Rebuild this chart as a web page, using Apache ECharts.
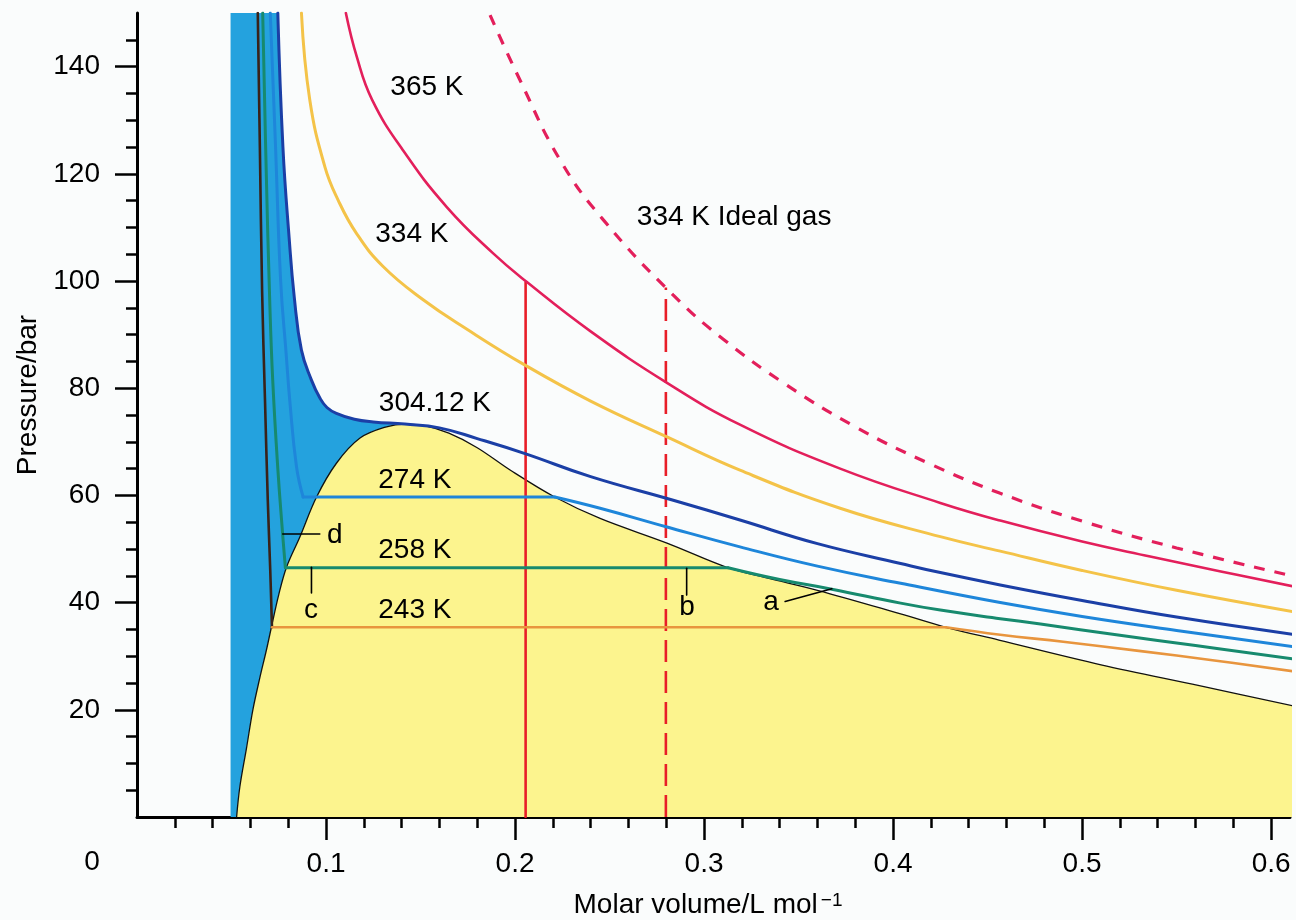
<!DOCTYPE html>
<html>
<head>
<meta charset="utf-8">
<title>CO2 isotherms</title>
<script src="https://cdn.jsdelivr.net/npm/echarts@6/dist/echarts.min.js"></script>
<style>
  html, body { margin: 0; padding: 0; background: #fafcfc; }
  #chart { width: 1296px; height: 920px; }
</style>
</head>
<body>
<div id="chart"></div>
<script>
// ---- Data: molar volume (L/mol), pressure (bar) ----

// axis ticks
const xMajorTicks = [0.1, 0.2, 0.3, 0.4, 0.5, 0.6];
const xMinorTicks = [0.02, 0.04, 0.06, 0.08, 0.12, 0.14, 0.16, 0.18, 0.22, 0.24, 0.26, 0.28,
  0.32, 0.34, 0.36, 0.38, 0.42, 0.44, 0.46, 0.48, 0.52, 0.54, 0.56, 0.58];
const yMajorTicks = [20, 40, 60, 80, 100, 120, 140];
const yMinorTicks = [5, 10, 15, 25, 30, 35, 45, 50, 55, 65, 70, 75, 85, 90, 95,
  105, 110, 115, 125, 130, 135, 145];

// coexistence (two-phase) boundary
const coexistence = [
  [0.0527, 0], [0.0544, 5.6], [0.058, 13], [0.0613, 20], [0.065, 26], [0.0685, 31.2],
  [0.0711, 35.4], [0.075, 41.5], [0.0791, 46.6], [0.0861, 52.2], [0.095, 59.7],
  [0.1055, 66], [0.118, 70.7], [0.132, 72.8], [0.1417, 73.3], [0.152, 73.0],
  [0.165, 71.6], [0.18, 68.9], [0.198, 64.6], [0.221, 59.7], [0.245, 55.7],
  [0.2804, 51.1], [0.3127, 46.5], [0.3332, 44.6], [0.36, 42.3], [0.404, 37.9], [0.428, 35.4],
  [0.456, 33.0], [0.51, 28.4], [0.562, 24.5], [0.6134, 20.6]
];

// left edge of the liquid region
const liquidEdgeV = 0.0495;

// 243 K
const iso243Liquid = [[0.0639, 150], [0.065, 125], [0.0662, 98], [0.0677, 78], [0.0692, 59], [0.0705, 46], [0.0714, 35.4]];
const iso243Tie = [[0.0714, 35.4], [0.428, 35.4]];
const iso243Gas = [[0.428, 35.4], [0.4567, 34.0], [0.49, 32.7], [0.53, 31.0], [0.57, 29.2], [0.6134, 27.1]];

// 258 K
const iso258Liquid = [[0.0665, 150], [0.0684, 120], [0.0702, 96.5], [0.0718, 81.5], [0.0745, 65], [0.077, 53], [0.0785, 46.5]];
const iso258Tie = [[0.0785, 46.5], [0.3127, 46.5]];
const iso258Gas = [[0.3127, 46.5], [0.34, 44.3], [0.3676, 42.5], [0.404, 39.9], [0.425, 38.6],
  [0.4567, 37.0], [0.478, 36.0], [0.52, 33.9], [0.56, 32.0], [0.6134, 29.4]];

// 274 K
const iso274Liquid = [[0.0705, 150], [0.0733, 125], [0.076, 100], [0.079, 86], [0.0808, 77.8], [0.0844, 65.3], [0.0879, 59.7]];
const iso274Tie = [[0.0879, 59.7], [0.221, 59.7]];
const iso274Gas = [[0.221, 59.7], [0.245, 57.6], [0.2804, 54.1], [0.319, 50.4], [0.36, 46.8],
  [0.404, 43.6], [0.4567, 40.0], [0.5, 37.4], [0.55, 34.8], [0.6134, 31.7]];

// 304.12 K (critical)
const iso304 = [[0.0745, 150], [0.0772, 125], [0.0805, 108], [0.0832, 97], [0.087, 87.1],
  [0.0923, 81.5], [0.0967, 78.2], [0.1005, 76.4], [0.1055, 75.3], [0.115, 74.2], [0.125, 73.7], [0.1417, 73.3],
  [0.16, 72.6], [0.18, 70.6], [0.2053, 67.8], [0.24, 63.5], [0.2837, 59.1], [0.319, 55.4],
  [0.36, 51.0], [0.404, 47.3], [0.425, 45.6], [0.4567, 43.3], [0.5, 40.4], [0.55, 37.3], [0.6134, 34.0]];

// 334 K
const iso334 = [[0.087, 150], [0.0914, 133.8], [0.0994, 121.3], [0.1064, 115.1], [0.1161, 108.9],
  [0.1302, 102.7], [0.1514, 96.5], [0.175, 90.9], [0.2053, 84.3], [0.24, 77.6], [0.2804, 70.9],
  [0.319, 64.7], [0.372, 57.6], [0.425, 52.3], [0.4567, 49.6], [0.5, 46.0], [0.55, 42.3], [0.6134, 38.2]];

// 365 K
const iso365 = [[0.1105, 150], [0.1163, 141.8], [0.1244, 133.8], [0.1407, 124.4], [0.1639, 113.8], [0.1883, 105.2],
  [0.2063, 99.8], [0.24, 90.6], [0.2804, 81.0], [0.319, 73.2], [0.372, 65.0], [0.425, 58.6],
  [0.4567, 55.3], [0.5, 51.4], [0.536, 48.6], [0.5734, 45.8], [0.6134, 42.9]];

// 334 K perfect gas
const ideal334 = [[0.1868, 149.6], [0.2026, 137.5], [0.2238, 122.6], [0.2465, 111.5], [0.2836, 97.4],
  [0.31, 89.2], [0.342, 81.0], [0.38, 72.8], [0.42, 65.8], [0.4567, 60.4], [0.5, 55.2],
  [0.55, 50.2], [0.6134, 44.8]];

// vertical markers at 100 bar
const markerReal = [[0.2056, 0], [0.2056, 99.7]];
const markerIdeal = [[0.2798, 0], [0.2798, 98.8]];

// pointer lines for a-d
const pointerD = [[0.0771, 52.8], [0.0967, 52.8]];
const pointerC = [[0.0923, 46.6], [0.0923, 41.8]];
const pointerB = [[0.2908, 46.4], [0.2908, 41.4]];
const pointerA = [[0.3429, 40.2], [0.3676, 42.6]];

// curve captions, anchored in data units
const captionText = ['365 K', '334 K', '334 K Ideal gas', '304.12 K', '274 K', '258 K', '243 K', 'd', 'c', 'b', 'a'];
const captionAt = [[0.1534, 136.2], [0.1454, 108.8], [0.3159, 111.9], [0.1576, 77.2], [0.147, 62.9],
  [0.147, 49.8], [0.147, 38.6], [0.1047, 52.6], [0.092, 38.6], [0.291, 39.2], [0.3355, 40.1]];

// ---- Styling ----
const FONT = '"Liberation Sans", Arial, Helvetica, sans-serif';
const INK = '#000000';
const C = {
  liquid: '#24A2DE',
  twoPhase: '#FCF48E',
  k365: '#E31F5B',
  k334: '#F4C348',
  k304: '#1B3FA6',
  k274: '#1E86DA',
  k258: '#178A6E',
  k243: '#E8953E',
  k243Liquid: '#3a2218',
  marker: '#E81E28'
};

function curve(data, color, width, opts) {
  return Object.assign({
    type: 'line',
    data: data,
    symbol: 'none',
    showSymbol: false,
    silent: true,
    smooth: 0.45,
    lineStyle: { color: color, width: width, cap: 'round', join: 'round' },
    z: 4
  }, opts || {});
}

// liquid region: bounded by the left edge, the critical isotherm and the coexistence curve
const peakIdx = coexistence.findIndex(p => p[0] === 0.1417);
const iso304ToPeak = iso304.slice(0, iso304.findIndex(p => p[0] === 0.1417) + 1);
const liquidPolygon = [[liquidEdgeV, 0], [liquidEdgeV, 150]]
  .concat(iso304ToPeak)
  .concat(coexistence.slice(0, peakIdx + 1).reverse());

const chart = echarts.init(document.getElementById('chart'), null, { renderer: 'canvas' });

const axisLineStyle = { color: INK, width: 3 };
const tickStyle = { color: INK, width: 2.5 };
const textStyle = { fontSize: 28, color: INK, fontFamily: FONT };

const option = {
  animation: false,
  backgroundColor: '#fafcfc',
  grid: { left: 137, right: 6, top: 13, bottom: 103, containLabel: false, outerBoundsMode: 'none' },
  xAxis: [
    {
      type: 'value', min: 0, max: 0.61, position: 'bottom',
      axisLine: { show: true, onZero: false, lineStyle: axisLineStyle },
      axisTick: { show: true, customValues: xMajorTicks, length: 23, lineStyle: tickStyle },
      axisLabel: Object.assign({
        show: true, customValues: xMajorTicks, margin: 33,
        formatter: v => v.toFixed(1)
      }, textStyle),
      splitLine: { show: false }
    },
    {
      type: 'value', min: 0, max: 0.61, position: 'bottom',
      axisLine: { show: false },
      axisTick: { show: true, customValues: xMinorTicks, length: 11, lineStyle: tickStyle },
      axisLabel: { show: false },
      splitLine: { show: false }
    }
  ],
  yAxis: [
    {
      type: 'value', min: 0, max: 150, position: 'left',
      axisLine: { show: true, onZero: false, lineStyle: axisLineStyle },
      axisTick: { show: true, customValues: yMajorTicks, length: 22, lineStyle: tickStyle },
      axisLabel: Object.assign({ show: true, customValues: yMajorTicks, margin: 37 }, textStyle),
      splitLine: { show: false }
    },
    {
      type: 'value', min: 0, max: 150, position: 'left',
      axisLine: { show: false },
      axisTick: { show: true, customValues: yMinorTicks, length: 11, lineStyle: tickStyle },
      axisLabel: { show: false },
      splitLine: { show: false }
    }
  ],
  series: [
    {
      type: 'custom',
      silent: true,
      clip: true,
      z: 1,
      data: [[liquidEdgeV, 0]],
      renderItem: function (params, api) {
        const pts = liquidPolygon.map(p => api.coord(p));
        return { type: 'polygon', shape: { points: pts, smooth: 0 }, style: { fill: C.liquid } };
      }
    },
    curve(coexistence, '#111', 1.3, {
      smooth: 0.35,
      areaStyle: { color: C.twoPhase, opacity: 1, origin: 'start' },
      z: 2
    }),
    curve(markerReal, C.marker, 2.6, { smooth: false, z: 3 }),
    curve(markerIdeal, C.marker, 2.6, { smooth: false, z: 3, lineStyle: { color: C.marker, width: 2.6, type: [22, 9] } }),

    curve(iso243Liquid, C.k243Liquid, 2.6),
    curve(iso243Tie, C.k243, 2.6, { smooth: false }),
    curve(iso243Gas, C.k243, 2.6),

    curve(iso258Liquid, C.k258, 3),
    curve(iso258Tie, C.k258, 3, { smooth: false }),
    curve(iso258Gas, C.k258, 3),

    curve(iso274Liquid, C.k274, 3),
    curve(iso274Tie, C.k274, 3, { smooth: false }),
    curve(iso274Gas, C.k274, 3),

    curve(iso304, C.k304, 3),
    curve(iso334, C.k334, 3),
    curve(iso365, C.k365, 2.6),
    curve(ideal334, C.k365, 3.2, { lineStyle: { color: C.k365, width: 3.2, type: [11, 10] } }),

    curve(pointerD, INK, 1.6, { smooth: false, z: 6 }),
    curve(pointerC, INK, 1.6, { smooth: false, z: 6 }),
    curve(pointerB, INK, 1.6, { smooth: false, z: 6 }),
    curve(pointerA, INK, 1.6, { smooth: false, z: 6 })
  ]
};

chart.setOption(option);

// texts: axis titles, origin mark and curve captions (captions placed through the grid's scales)
function textEl(x, y, text, extra) {
  return Object.assign({
    type: 'text', x: x, y: y, z: 100, silent: true,
    style: { text: text, font: '28px ' + FONT, fill: INK, align: 'center', verticalAlign: 'middle' }
  }, extra || {});
}

const graphics = [
  textEl(28, 395, 'Pressure/bar', { rotation: Math.PI / 2 }),
  {
    type: 'text', x: 708, y: 905, z: 100, silent: true,
    style: {
      text: 'Molar volume/L mol{sup|\u22121}', font: '28px ' + FONT, fill: INK,
      align: 'center', verticalAlign: 'middle',
      rich: { sup: { fontSize: 19, fontFamily: FONT, fill: INK, verticalAlign: 'top', padding: [0, 0, 0, 3] } }
    }
  },
  textEl(92, 862, '0')
];
captionText.forEach((t, i) => {
  const p = chart.convertToPixel({ gridIndex: 0 }, captionAt[i]);
  graphics.push(textEl(p[0], p[1], t));
});
chart.setOption({ graphic: graphics });
</script>
</body>
</html>
